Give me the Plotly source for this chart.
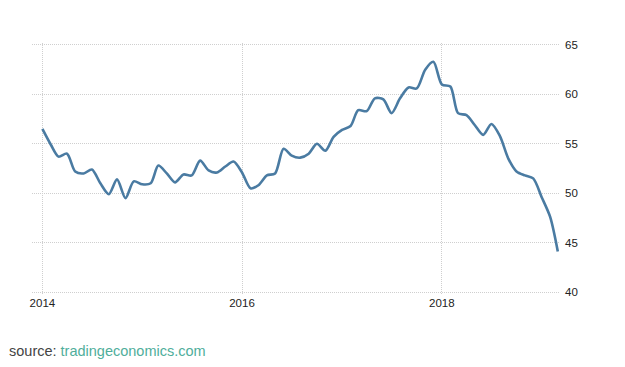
import plotly.graph_objects as go
import pandas as pd

# Monthly values, Jan 2014 .. Mar 2019
values_2014 = [56.5, 54.9, 53.7, 54.0, 52.2, 52.0, 52.4, 51.0, 49.9, 51.4, 49.5, 51.2]
values_2015 = [50.9, 51.0, 52.8, 52.0, 51.1, 51.9, 51.8, 53.3, 52.3, 52.1, 52.7, 53.2]
values_2016 = [52.1, 50.5, 50.8, 51.8, 52.0, 54.5, 53.8, 53.6, 54.0, 55.0, 54.3, 55.7]
values_2017 = [56.4, 56.8, 58.4, 58.3, 59.6, 59.5, 58.1, 59.6, 60.7, 60.6, 62.5, 63.3]
values_2018 = [61.0, 60.8, 58.1, 57.9, 56.9, 55.9, 57.0, 55.8, 53.5, 52.2, 51.8, 51.5]
values_2019 = [49.6, 47.6, 44.1]

values = values_2014 + values_2015 + values_2016 + values_2017 + values_2018 + values_2019
dates = pd.date_range("2014-01-01", periods=len(values), freq="MS")

y_ticks = [40, 45, 50, 55, 60, 65]
x_ticks = ["2014-01-01", "2016-01-01", "2018-01-01"]
x_tick_labels = ["2014", "2016", "2018"]

tick_font = dict(family="Liberation Sans, Arial", size=11.5, color="#222222")

fig = go.Figure()
fig.add_trace(go.Scatter(
    x=dates, y=values, mode="lines",
    line=dict(color="#4a7ba2", width=2.6, shape="spline", smoothing=0.8),
    hoverinfo="skip", showlegend=False,
))

# page body has an 8px default margin, so the figure is sized 8px smaller
fig.update_layout(
    width=617, height=359,
    margin=dict(l=24, r=65, t=35, b=73),
    paper_bgcolor="white", plot_bgcolor="white",
    showlegend=False,
    xaxis=dict(
        type="date",
        range=["2013-11-24", "2019-03-09"],
        tickmode="array", tickvals=x_ticks, ticktext=x_tick_labels,
        showgrid=True, gridcolor="#cfcfcf", griddash="1px,1px", gridwidth=1,
        zeroline=False, showline=False, ticks="",
        tickfont=tick_font,
    ),
    yaxis=dict(
        range=[39.8, 65.2], side="right",
        tickmode="array", tickvals=y_ticks, ticktext=[str(v) for v in y_ticks],
        showgrid=True, gridcolor="#cfcfcf", griddash="1px,1px", gridwidth=1,
        zeroline=False, showline=False, ticks="",
        tickfont=tick_font, ticklabelstandoff=4,
    ),
    annotations=[dict(
        xref="paper", yref="paper",
        x=(-1 - 24) / 528, y=(286 - 343) / 251,
        xanchor="left", yanchor="middle",
        showarrow=False,
        text="<span style='color:#444444'>source: </span><span style='color:#4fae9b'>tradingeconomics.com</span>",
        font=dict(family="Liberation Sans, Arial", size=14.5),
    )],
)

fig.write_html("out.html")
